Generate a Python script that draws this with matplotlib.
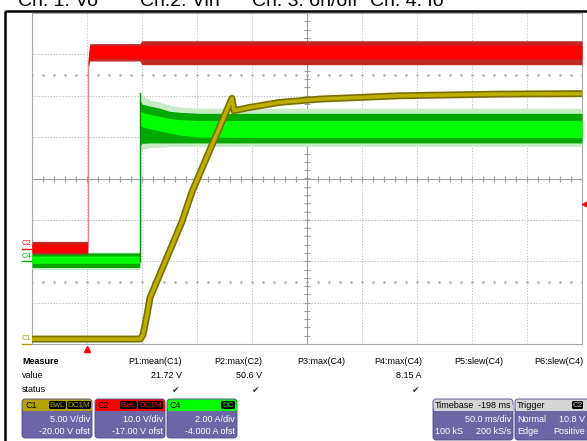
import numpy as np
import matplotlib
matplotlib.use('Agg')
import matplotlib.pyplot as plt
from matplotlib.patches import FancyBboxPatch, Rectangle

plt.rcParams['font.family'] = ['Liberation Sans', 'DejaVu Sans']

# scope settings
ch_scale = {'C1': 5.0, 'C2': 10.0, 'C4': 2.0}       # units / div
ch_offset = {'C1': -20.0, 'C2': -17.0, 'C4': -4.0}  # ofst
time_div = 50.0     # ms/div
t_left = -50.0      # ms at left edge of the screen
trig_level = 10.8   # V on C2

# C1 : Vo  (V)
vo_t = [-50, 48.5, 50.9, 54.5, 57.3, 86.4, 95.5, 131.8, 133.6, 148.2,
        175.5, 211.8, 248.2, 284.5, 330, 375.5, 450]
vo_v = [0.6, 0.6, 1.1, 3.5, 5.6, 14.8, 18.4, 29.7, 28.2, 28.6,
        29.2, 29.6, 29.8, 30.0, 30.1, 30.2, 30.25]

# C2 : Vin (V) - noise envelope and core band
vin_t = [-50, 0.7, 1.0, 2.5, 48, 50, 450]
vin_spk_hi = [1.8, 1.8, 46.0, 49.6, 49.6, 50.3, 50.3]
vin_spk_lo = [-1.2, -1.2, 43.5, 45.4, 45.4, 44.5, 44.5]
vin_core_hi = [1.2, 1.2, 45.5, 49.1, 49.1, 49.3, 49.3]
vin_core_lo = [-0.8, -0.8, 44.0, 46.0, 46.0, 45.9, 45.9]

# C4 : Io (A) - pale spikes, dark band, bright core
io_t = [-50, 48.0, 48.2, 50, 57, 66, 75, 84, 102, 150, 450]
io_spk_hi = [0.45, 0.45, 8.15, 8.0, 7.8, 7.7, 7.55, 7.45, 7.4, 7.4, 7.4]
io_spk_lo = [-0.4, -0.4, 5.3, 5.4, 5.5, 5.5, 5.55, 5.55, 5.55, 5.55, 5.55]
io_dark_hi = [0.40, 0.40, 7.8, 7.6, 7.5, 7.4, 7.25, 7.2, 7.15, 7.15, 7.15]
io_dark_lo = [-0.3, -0.3, 5.6, 5.7, 5.72, 5.72, 5.72, 5.72, 5.72, 5.72, 5.72]
io_core_hi = [0.25, 0.25, 7.3, 7.2, 7.1, 7.0, 6.9, 6.85, 6.8, 6.8, 6.8]
io_core_lo = [-0.1, -0.1, 6.6, 6.5, 6.4, 6.3, 6.2, 6.1, 6.0, 5.98, 5.98]

# measurement table
meas_names = ['P1:mean(C1)', 'P2:max(C2)', 'P3:max(C4)', 'P4:max(C4)',
              'P5:slew(C4)', 'P6:slew(C4)']
meas_values = ['21.72 V', '50.6 V', '', '8.15 A', '', '']
meas_status = ['\u2714', '\u2714', '', '\u2714', '', '']

W, H = 587, 441
fig = plt.figure(figsize=(W / 100, H / 100), dpi=100)
fig.patch.set_facecolor('white')

# layout layer in pixel units (frame, title, info panel)
lay = fig.add_axes([0, 0, 1, 1])
lay.set_xlim(0, W)
lay.set_ylim(H, 0)
lay.axis('off')

lay.add_patch(Rectangle((5, 10.7), 700, 500, fill=False, ec='black',
                        lw=1.8, clip_on=False))
titles = ['Ch. 1: Vo', 'Ch.2: Vin', 'Ch. 3: on/off', 'Ch. 4: Io']
for x, s in zip([18, 140, 252, 370], titles):
    lay.text(x, 6, s, fontsize=14, va='baseline', ha='left', clip_on=False)

# scope screen
ax = fig.add_axes([32 / W, 1 - 344 / H, 550 / W, 331 / H])
ax.set_xlim(t_left, t_left + 10 * time_div)
ax.set_ylim(-4, 4)
ax.set_xticks([])
ax.set_yticks([])
for s in ax.spines.values():
    s.set_color('#A8A8A8')
    s.set_linewidth(0.8)

t_center = t_left + 5 * time_div
for k in range(1, 10):
    if k != 5:
        ax.axvline(t_left + k * time_div, color='#BEBEBE', lw=0.7,
                   ls=(0, (1.2, 1.8)))
for d in [-3, -2, -1, 1, 2, 3]:
    ax.axhline(d, color='#BEBEBE', lw=0.8, ls=(0, (1.2, 1.5)))
ax.axvline(t_center, color='#9C9C9C', lw=0.8)
ax.axhline(0, color='#9C9C9C', lw=0.8)
tick_t = np.arange(t_left, t_left + 10 * time_div + 1, time_div / 5)
tick_d = np.arange(-4, 4.01, 0.2)
ax.plot(tick_t, np.zeros_like(tick_t), ls='none', marker='|', ms=4.5,
        mew=0.8, color='#9C9C9C')
ax.plot(np.full_like(tick_d, t_center), tick_d, ls='none', marker='_',
        ms=4.5, mew=0.8, color='#9C9C9C')
for d in [2.5, -2.5]:
    ax.plot(tick_t, np.full_like(tick_t, d), ls='none', marker='s', ms=0.8,
            color='#B0B0B0')


def chan_axes(ch):
    a = ax.twinx()
    c = -ch_offset[ch]
    a.set_ylim(c - 4 * ch_scale[ch], c + 4 * ch_scale[ch])
    a.axis('off')
    return a


ax4 = chan_axes('C4')
ax2 = chan_axes('C2')
ax1 = chan_axes('C1')

# C4 current
ax4.fill_between(io_t, io_spk_lo, io_spk_hi, color='#C6EBC6', lw=0)
ax4.fill_between(io_t, io_dark_lo, io_dark_hi, color='#00A800', lw=0)
ax4.fill_between(io_t, io_core_lo, io_core_hi, color='#00FF00', lw=0)
ax4.plot([io_t[2], io_t[2]], [0, max(io_spk_hi)], color='#008C00', lw=1)

# C2 input voltage
ax2.fill_between(vin_t, vin_spk_lo, vin_spk_hi, color='#C02828', lw=0)
ax2.fill_between(vin_t, vin_core_lo, vin_core_hi, color='#FF0000', lw=0)
ax2.plot([vin_t[1], vin_t[1]], [vin_core_hi[0], vin_core_lo[2]],
         color='#F08080', lw=0.8)

# C1 output voltage
ax1.plot(vo_t, vo_v, color='#7A6E00', lw=5.0, solid_joinstyle='round',
         solid_capstyle='butt')
ax1.plot(vo_t, vo_v, color='#BDAE00', lw=2.6, solid_joinstyle='round',
         solid_capstyle='butt')

# ground markers on the left (label placed in pixel space of the layout layer)
for a, ch, col in [(ax2, 'C2', '#E01010'), (ax4, 'C4', '#00B000'),
                   (ax1, 'C1', '#A89A00')]:
    tr = a.get_yaxis_transform()
    a.plot([-0.019, -0.001], [0, 0], transform=tr, color=col, lw=1,
           clip_on=False)
    y_pix = H - a.transData.transform((t_left, 0))[1]
    lay.text(21.5, y_pix - 1.5, ch, color=col, fontsize=5.5,
             va='bottom', ha='left')

# trigger position and level markers
ax.plot([0], [-0.016], transform=ax.get_xaxis_transform(), marker='^',
        ms=5, color='#FF0000', clip_on=False, ls='none')
ax2.plot([1.006], [trig_level], transform=ax2.get_yaxis_transform(),
         marker='<', ms=5, color='#FF0000', clip_on=False, ls='none')

# measure table
fs = 6.5
lay.text(22, 362, 'Measure', fontsize=fs, fontweight='bold', va='center')
lay.text(22, 376, 'value', fontsize=fs, va='center')
lay.text(22, 390, 'status', fontsize=fs, va='center')
for xr, n, v, st in zip([182, 262, 345, 422, 503, 583], meas_names,
                        meas_values, meas_status):
    lay.text(xr, 362, n, fontsize=fs, ha='right', va='center')
    lay.text(xr, 376, v, fontsize=fs, ha='right', va='center')
    lay.text(xr - 3, 390, st, fontsize=fs, ha='right', va='center',
             color='#333333', family=['DejaVu Sans'])

body_col = '#6D66A6'


def desc_box(x0, w, hdr_col, y1=438):
    lay.add_patch(FancyBboxPatch((x0, 399), w, y1 - 399,
                                 boxstyle='round,pad=0,rounding_size=3',
                                 fc=body_col, ec='#4E4884', lw=0.6))
    lay.add_patch(FancyBboxPatch((x0 + 0.5, 399.5), w - 1, 11,
                                 boxstyle='round,pad=0,rounding_size=2.5',
                                 fc=hdr_col, ec='none'))
    lay.add_patch(Rectangle((x0 + 0.5, 405), w - 1, 5.5, fc=hdr_col,
                            ec='none'))


def tag(x0, x1, s, col):
    lay.add_patch(FancyBboxPatch((x0, 401), x1 - x0, 8,
                                 boxstyle='round,pad=0,rounding_size=1.5',
                                 fc='black', ec='none'))
    lay.text((x0 + x1) / 2, 405.2, s, fontsize=5.8, color=col,
             ha='center', va='center')


chan_boxes = [
    ('C1', 22, '#B3A400', [(49, 66, 'BwL'), (67, 91, 'DC1M')],
     '5.00 V/div', '-20.00 V ofst'),
    ('C2', 95, '#FF0000', [(120, 137, 'BwL'), (138, 163, 'DC1M')],
     '10.0 V/div', '-17.00 V ofst'),
    ('C4', 167, '#00FF00', [(221, 235, 'DC')],
     '2.00 A/div', '-4.000 A ofst'),
]
for name, x0, col, tags, l1, l2 in chan_boxes:
    desc_box(x0, 70, col)
    lay.text(x0 + 3, 405, name, fontsize=6.5, va='center', color='black')
    for a0, a1, s in tags:
        tag(a0, a1, s, col)
    lay.text(x0 + 68, 420, l1, fontsize=fs, ha='right', va='center',
             color='white')
    lay.text(x0 + 68, 432, l2, fontsize=fs, ha='right', va='center',
             color='white')

# timebase box
desc_box(433, 80, '#D6D6D6', 440)
lay.text(435, 405, 'Timebase', fontsize=fs, va='center')
lay.text(511, 405, '-198 ms', fontsize=fs, va='center', ha='right')
lay.text(511, 420, '50.0 ms/div', fontsize=fs, va='center', ha='right',
         color='white')
lay.text(435, 432, '100 kS', fontsize=fs, va='center', color='white')
lay.text(511, 432, '200 kS/s', fontsize=fs, va='center', ha='right',
         color='white')

# trigger box
desc_box(515, 90, '#D6D6D6', 440)
lay.text(517, 405, 'Trigger', fontsize=fs, va='center')
lay.add_patch(FancyBboxPatch((572, 401), 11, 8,
                             boxstyle='round,pad=0,rounding_size=1.5',
                             fc='black', ec='none'))
lay.text(577.5, 405.2, 'C2', fontsize=5.8, color='#D0D0D0', ha='center',
         va='center')
lay.text(517, 420, 'Normal', fontsize=fs, va='center', color='white')
lay.text(585, 420, '10.8 V', fontsize=fs, va='center', ha='right',
         color='white')
lay.text(517, 432, 'Edge', fontsize=fs, va='center', color='white')
lay.text(585, 432, 'Positive', fontsize=fs, va='center', ha='right',
         color='white')

fig.savefig('out.png', dpi=100)
